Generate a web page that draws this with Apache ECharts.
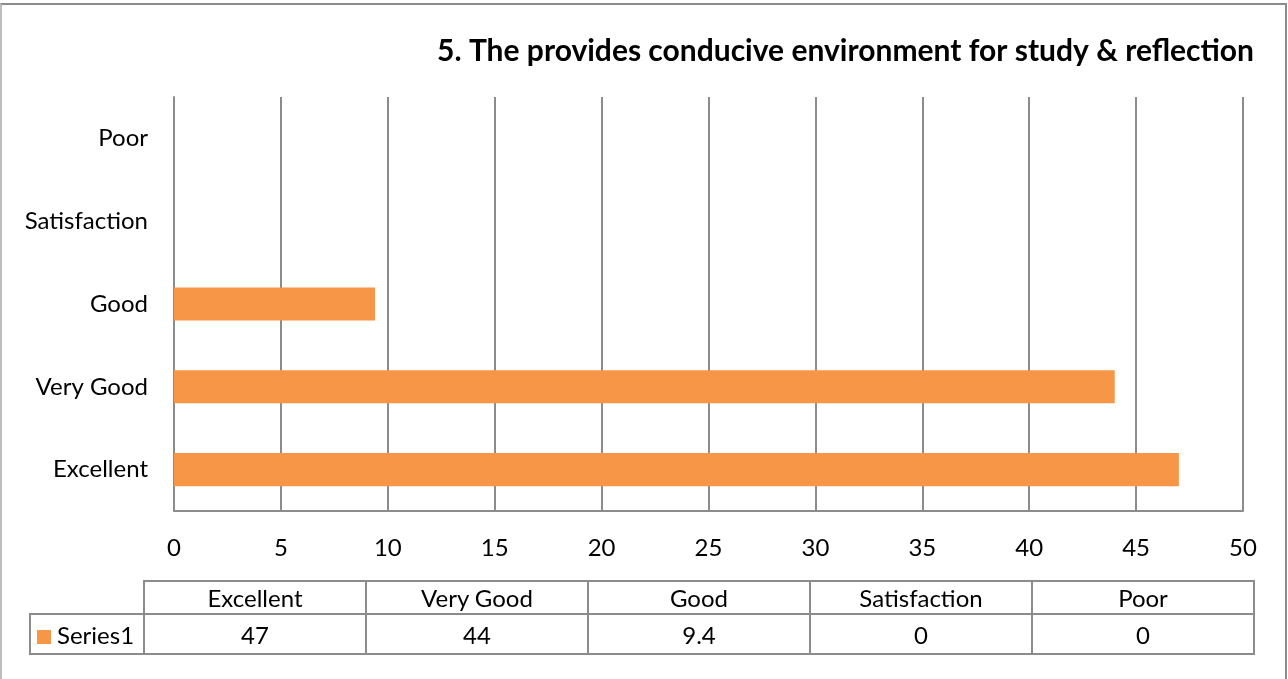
<!DOCTYPE html>
<html>
<head>
<meta charset="utf-8">
<script src="https://cdn.jsdelivr.net/npm/echarts@6/dist/echarts.min.js"></script>
<style>
  html, body { margin: 0; padding: 0; background: #fff; }
  #wrap { position: relative; width: 1288px; height: 679px; overflow: hidden; font-family: Lato, sans-serif; }
  #frame {
    position: absolute; left: 0; top: 3px; width: 1283px; height: 700px;
    border-top: 2px solid #8c8c8c; border-left: 2px solid #bdbdbd; border-right: 2px solid #8c8c8c;
  }
  #chart { position: absolute; left: 0; top: 0; width: 1288px; height: 679px; }
  #table {
    position: absolute; left: 29px; top: 580px;
    border-collapse: collapse; font-size: 24px; color: #000;
  }
  #table td { border: 2px solid #8c8c8c; text-align: center; padding: 0; height: 31px; width: 220px; }
  #table td.blank { border: none; border-right: 2px solid #8c8c8c; border-bottom: 2px solid #8c8c8c; width: 112px; }
  #table td.name { width: 106px; text-align: left; padding-left: 6px; white-space: nowrap; height: 38px; }
  #table tr.vals td { height: 38px; }
  .mk { display: inline-block; width: 14px; height: 14px; background: #F79646; margin-right: 6px; vertical-align: 0px; }
</style>
</head>
<body>
<div id="wrap">
  <div id="frame"></div>
  <div id="chart"></div>
  <table id="table"></table>
</div>
<script>
// data
const categories = ['Excellent', 'Very Good', 'Good', 'Satisfaction', 'Poor'];
const seriesName = 'Series1';
const values = [47, 44, 9.4, 0, 0];
const valueLabels = ['47', '44', '9.4', '0', '0'];
const titleText = '5. The provides conducive environment for study & reflection';

const chart = echarts.init(document.getElementById('chart'));
chart.setOption({
  animation: false,
  title: {
    text: titleText,
    right: 29,
    top: 31,
    textStyle: { fontFamily: 'Lato', fontWeight: 'bold', fontSize: 30, color: '#000' }
  },
  grid: { left: 174, right: 45, top: 97, bottom: 168 },
  xAxis: {
    type: 'value',
    min: 0,
    max: 50,
    interval: 5,
    axisLine: { show: true, lineStyle: { color: '#8c8c8c', width: 2 } },
    axisTick: { show: false },
    axisLabel: { color: '#000', fontSize: 24, fontFamily: 'Lato', margin: 25 },
    splitLine: { show: true, lineStyle: { color: '#8c8c8c', width: 2 } }
  },
  yAxis: {
    type: 'category',
    data: categories,
    axisLine: { show: true, lineStyle: { color: '#8c8c8c', width: 2 } },
    axisTick: { show: false },
    axisLabel: { color: '#000', fontSize: 24, fontFamily: 'Lato', margin: 26 }
  },
  series: [{
    name: seriesName,
    type: 'bar',
    data: values,
    barWidth: '40%',
    itemStyle: { color: '#F79646' }
  }]
});

// data table below the chart
const table = document.getElementById('table');
let head = '<tr><td class="blank"></td>' + categories.map(c => '<td>' + c + '</td>').join('') + '</tr>';
let row = '<tr class="vals"><td class="name"><span class="mk"></span>' + seriesName + '</td>' +
  valueLabels.map(v => '<td>' + v + '</td>').join('') + '</tr>';
table.innerHTML = head + row;
</script>
</body>
</html>
